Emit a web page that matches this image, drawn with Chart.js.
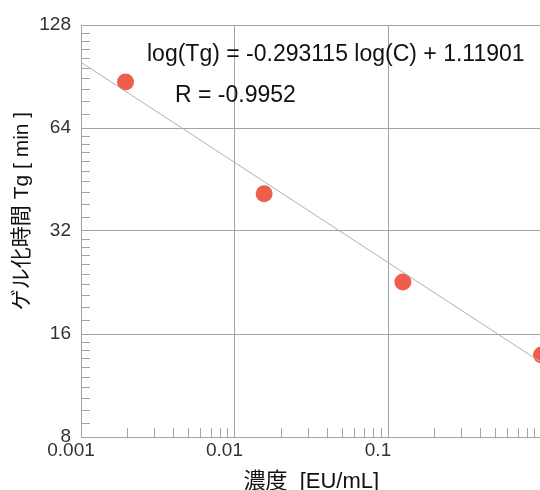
<!DOCTYPE html>
<html>
<head>
<meta charset="utf-8">
<script src="https://cdn.jsdelivr.net/npm/chart.js@4"></script>
<style>
  html, body { margin: 0; padding: 0; background: #fff; overflow: hidden; }
  #chart { display: block; }
</style>
</head>
<body>
<canvas id="chart" width="550" height="500"></canvas>
<script>
// Daten
const concentrations = [0.00195, 0.0156, 0.125, 1];   // EU/mL
const gelTimes = [87.2, 41.1, 22.7, 13.9];            // min
const fitLineX = [0.001, 1];
const fitLineY = [99.6, 13.2];
const xTickValues = [0.001, 0.01, 0.1];
const yTickValues = [8, 16, 32, 64, 128];
const equationText = 'log(Tg) = -0.293115 log(C) + 1.11901';
const rText = 'R = -0.9952';

const gridColor = '#a4a4a4';
const pointColor = '#ee5e4c';
const latinFont = '"Liberation Sans", Arial, "Noto Sans CJK JP", sans-serif';

// kleine Teilstriche (Hilfswerte, keine Daten)
const xMinorTicks = [];
xTickValues.forEach(dec => {
    for (let m = 2; m <= 9; m++) xMinorTicks.push(m * dec);
});
const yMinorTicks = [];
yTickValues.slice(0, -1).forEach(base => {
    for (let j = 1; j <= 9; j++) yMinorTicks.push(base * (1 + j / 10));
});

const extrasPlugin = {
    id: 'extras',
    beforeDatasetsDraw(chart) {
        const { ctx, chartArea, scales: { x, y } } = chart;
        ctx.save();
        ctx.strokeStyle = gridColor;
        ctx.lineWidth = 1;
        ctx.beginPath();
        xMinorTicks.forEach(v => {
            const px = Math.round(x.getPixelForValue(v)) + 0.5;
            ctx.moveTo(px, chartArea.bottom);
            ctx.lineTo(px, chartArea.bottom - 9);
        });
        yMinorTicks.forEach(v => {
            const py = Math.round(y.getPixelForValue(v)) + 0.5;
            ctx.moveTo(chartArea.left, py);
            ctx.lineTo(chartArea.left + 9, py);
        });
        ctx.stroke();
        ctx.restore();
    },
    afterDraw(chart) {
        const { ctx } = chart;
        ctx.save();
        // Regressionsformel
        ctx.fillStyle = '#111';
        ctx.textBaseline = 'alphabetic';
        ctx.textAlign = 'left';
        ctx.font = '23px ' + latinFont;
        ctx.fillText(equationText, 147, 61);
        ctx.fillText(rText, 175, 102);
        // y-Achsentitel
        ctx.translate(22, 211);
        ctx.rotate(-Math.PI / 2);
        ctx.textAlign = 'center';
        ctx.textBaseline = 'middle';
        ctx.font = '21px ' + latinFont;
        ctx.fillText('ゲル化時間 Tg [ min ]', 0, 0);
        ctx.restore();
    }
};

new Chart(document.getElementById('chart'), {
    type: 'scatter',
    data: {
        datasets: [
            {
                label: 'fit',
                data: fitLineX.map((c, i) => ({ x: c, y: fitLineY[i] })),
                showLine: true,
                borderColor: '#b0b0b0',
                borderWidth: 1,
                pointRadius: 0
            },
            {
                label: 'Tg',
                data: concentrations.map((c, i) => ({ x: c, y: gelTimes[i] })),
                backgroundColor: pointColor,
                borderColor: pointColor,
                borderWidth: 0,
                pointRadius: 8.5
            }
        ]
    },
    options: {
        responsive: false,
        animation: false,
        layout: { padding: { top: 25, right: 7, left: 0, bottom: 0 } },
        plugins: {
            legend: { display: false },
            tooltip: { enabled: false }
        },
        scales: {
            x: {
                type: 'logarithmic',
                min: 0.001,
                max: 1,
                afterBuildTicks: scale => { scale.ticks = xTickValues.map(v => ({ value: v })); },
                afterFit: scale => { scale.height = 63; },
                grid: { color: gridColor, lineWidth: 1, drawTicks: false },
                border: { color: gridColor, width: 1 },
                ticks: {
                    color: '#333',
                    font: { family: latinFont, size: 19 },
                    padding: 2,
                    labelOffset: -10,
                    maxRotation: 0,
                    autoSkip: false,
                    callback: v => String(v)
                },
                title: {
                    display: true,
                    text: '濃度  [EU/mL]',
                    color: '#111',
                    font: { family: latinFont, size: 22 },
                    padding: { top: 0, bottom: 5 }
                }
            },
            y: {
                type: 'logarithmic',
                min: 8,
                max: 128,
                afterBuildTicks: scale => { scale.ticks = yTickValues.map(v => ({ value: v })); },
                afterFit: scale => { scale.width = 81; },
                grid: { color: gridColor, lineWidth: 1, drawTicks: false },
                border: { color: gridColor, width: 1 },
                ticks: {
                    color: '#333',
                    font: { family: latinFont, size: 19 },
                    padding: 10,
                    autoSkip: false,
                    callback: v => String(v)
                }
            }
        }
    },
    plugins: [extrasPlugin]
});
</script>
</body>
</html>
